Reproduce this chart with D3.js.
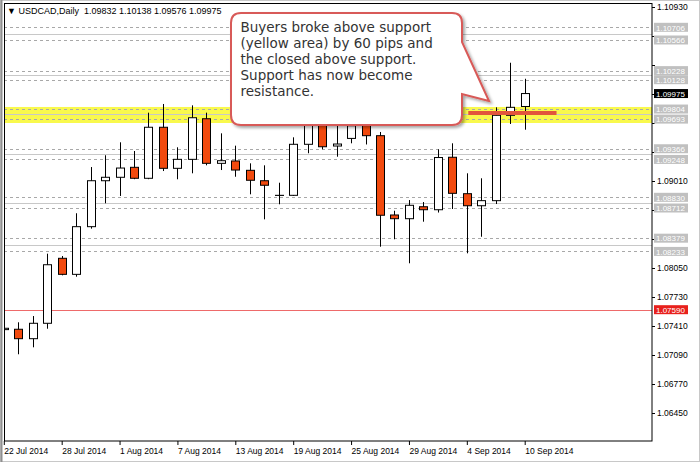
<!DOCTYPE html>
<html><head><meta charset="utf-8">
<script src="https://cdn.jsdelivr.net/npm/d3@7"></script>
<style>body{margin:0;background:#fff}svg{display:block}</style>
</head><body>
<script>
// ---------- data ----------
const title = "USDCAD,Daily  1.09832 1.10138 1.09576 1.09975";
const opens  = [1.07370,1.07374,1.07270,1.07440,1.08157,1.07980,1.08506,1.09013,1.09051,1.09161,1.09040,1.09603,1.09150,1.09249,1.09697,1.09205,1.09231,1.09128,1.09013,1.08852,1.08852,1.09415,1.09700,1.09396,1.09480,1.09640,1.09510,1.08635,1.08594,1.08726,1.08693,1.09272,1.08870,1.08737,1.08793,1.09735,1.09832];
const highs  = [1.07399,1.07451,1.07520,1.08208,1.08182,1.08654,1.09164,1.09294,1.09437,1.09341,1.09764,1.09860,1.09382,1.09845,1.09764,1.09536,1.09400,1.09205,1.09183,1.08991,1.09492,1.09790,1.09800,1.09620,1.09700,1.09700,1.09551,1.08682,1.08800,1.08778,1.09360,1.09426,1.09095,1.09040,1.09823,1.10315,1.10138];
const lows   = [1.07355,1.07098,1.07175,1.07380,1.07969,1.07954,1.08484,1.08764,1.08845,1.09030,1.09030,1.09120,1.09029,1.09095,1.09183,1.09131,1.09057,1.08863,1.08587,1.08753,1.08845,1.09316,1.09360,1.09278,1.09426,1.09413,1.08285,1.08367,1.08102,1.08561,1.08662,1.08701,1.08212,1.08395,1.08756,1.09639,1.09576];
const closes = [1.07385,1.07270,1.07440,1.08086,1.07980,1.08506,1.09013,1.09051,1.09153,1.09040,1.09603,1.09150,1.09249,1.09708,1.09205,1.09234,1.09131,1.09018,1.08963,1.08852,1.09415,1.09700,1.09388,1.09418,1.09620,1.09510,1.08632,1.08594,1.08742,1.08693,1.09269,1.08874,1.08737,1.08793,1.09735,1.09823,1.09975];
const xTickIndex  = [0,4,8,12,16,20,24,28,32,36];
const xTickLabels = ["22 Jul 2014","28 Jul 2014","1 Aug 2014","7 Aug 2014","13 Aug 2014","19 Aug 2014","25 Aug 2014","29 Aug 2014","4 Sep 2014","10 Sep 2014"];
const yTicks = [1.10930,1.10610,1.10290,1.09970,1.09650,1.09330,1.09010,1.08690,1.08370,1.08050,1.07730,1.07410,1.07090,1.06770,1.06450];
const levelPairs = [[1.10706,1.10566],[1.10228,1.10128],[1.09804,1.09693],[1.09366,1.09248],[1.08830,1.08712],[1.08379,1.08233]];
const supportZone = [1.09827,1.09650];
const redLevel = 1.07590;
const currentPrice = 1.09975;
const markFrom = 32.1, markTo = 38.2, markPrice = 1.09760;
const calloutLines = ["Buyers broke above support","(yellow area) by 60 pips and","the closed above support.","Support has now become","resistance."];

// ---------- layout ----------
const W=700,H=462,L=4,T=4,R=652,B=441;
const svg=d3.select("body").append("svg").attr("width",W).attr("height",H);
const x=d3.scaleLinear().domain([0,36]).range([3.8,524.7]);
const y=d3.scaleLinear().domain([1.06450,1.10930]).range([413,7]);
const bull="#ffffff", bear="#f24a0e";

const defs=svg.append("defs");
defs.append("clipPath").attr("id","plot").append("rect").attr("x",L).attr("y",T).attr("width",R-L).attr("height",B-T);
const f=defs.append("filter").attr("id","sh").attr("x","-10%").attr("y","-10%").attr("width","130%").attr("height","130%");
f.append("feDropShadow").attr("dx",2).attr("dy",2).attr("stdDeviation",1.5).attr("flood-color","#000").attr("flood-opacity",0.35);

svg.append("rect").attr("x",0.5).attr("y",0.5).attr("width",W-1).attr("height",H-1).attr("fill","#fff").attr("stroke","#c8c8c8");
svg.append("line").attr("x1",1.5).attr("x2",1.5).attr("y1",0).attr("y2",H).attr("stroke","#909090").attr("stroke-width",2);

const plot=svg.append("g").attr("clip-path","url(#plot)");

// yellow support zone
plot.append("rect").attr("x",0).attr("width",R)
  .attr("y",y(supportZone[0])).attr("height",y(supportZone[1])-y(supportZone[0]))
  .attr("fill","#f8f83a").attr("opacity",0.9);

// level lines
levelPairs.forEach(p=>{
  p.forEach(v=>{
    plot.append("line").attr("x1",L).attr("x2",R).attr("y1",Math.round(y(v))+0.5).attr("y2",Math.round(y(v))+0.5)
      .attr("stroke","#a8a8a8").attr("stroke-dasharray","3,3");
  });
  const m=(p[0]+p[1])/2;
  plot.append("line").attr("x1",L).attr("x2",R).attr("y1",Math.round(y(m))+0.5).attr("y2",Math.round(y(m))+0.5)
    .attr("stroke","#c8c8c8");
});
// red level
plot.append("line").attr("x1",L).attr("x2",R).attr("y1",Math.round(y(redLevel))+0.5).attr("y2",Math.round(y(redLevel))+0.5)
  .attr("stroke","#ee6a6a").attr("stroke-width",1.2);

// candles
const idx=d3.range(opens.length);
const cg=plot.append("g");
cg.selectAll("line.w").data(idx).join("line")
  .attr("x1",i=>Math.round(x(i))+0.5).attr("x2",i=>Math.round(x(i))+0.5)
  .attr("y1",i=>y(highs[i])).attr("y2",i=>y(lows[i]))
  .attr("stroke","#000").attr("stroke-width",1);
cg.selectAll("rect.b").data(idx).join("rect")
  .attr("x",i=>Math.round(x(i))-4+0.5).attr("width",8)
  .attr("y",i=>y(Math.max(opens[i],closes[i])))
  .attr("height",i=>Math.max(0.1,Math.abs(y(opens[i])-y(closes[i]))))
  .attr("fill",i=>closes[i]>=opens[i]?bull:bear)
  .attr("stroke","#000").attr("stroke-width",1);

// annotation segment
plot.append("line").attr("x1",x(markFrom)).attr("x2",x(markTo)).attr("y1",y(markPrice)).attr("y2",y(markPrice))
  .attr("stroke","#e2553c").attr("stroke-width",4);

// frame
svg.append("rect").attr("x",L+0.5).attr("y",T-0.5).attr("width",R-L-0.5).attr("height",B-T+0.5)
  .attr("fill","none").attr("stroke","#000");

// x axis
const xa=svg.append("g").attr("transform",`translate(0,${B})`)
  .call(d3.axisBottom(x).tickValues(xTickIndex).tickFormat((d,i)=>xTickLabels[i]).tickSize(4).tickSizeOuter(0));
xa.select(".domain").remove();
xa.selectAll("line").attr("stroke","#000");
xa.selectAll("text").attr("text-anchor","start").attr("x",0).attr("y",7)
  .style("font-family","'Liberation Sans',Arial,sans-serif").style("font-size","8.5px").attr("fill","#000");

// y axis: tick labels hidden behind price labels are left blank, as in the reference
const labelled=levelPairs.flat().concat([currentPrice,redLevel]);
const covered=v=>labelled.some(l=>Math.abs(y(l)-y(v))<6);
const ya=svg.append("g").attr("transform",`translate(${R},0)`)
  .call(d3.axisRight(y).tickValues(yTicks).tickFormat(v=>covered(v)?"":d3.format(".5f")(v)).tickSize(3).tickSizeOuter(0));
ya.select(".domain").remove();
ya.selectAll("line").attr("stroke","#000");
ya.selectAll("text").attr("x",5)
  .style("font-family","'Liberation Sans',Arial,sans-serif").style("font-size","8.5px").attr("fill","#000");

// price labels
function priceLabel(v,bg){
  const g=svg.append("g");
  g.append("rect").attr("x",R+2).attr("y",y(v)-4.5).attr("width",34).attr("height",9).attr("fill",bg);
  g.append("text").attr("x",R+4).attr("y",y(v)+3.2).text(d3.format(".5f")(v))
    .style("font-family","'Liberation Sans',Arial,sans-serif").style("font-size","8px").attr("fill","#fff");
}
levelPairs.flat().forEach(v=>priceLabel(v,"#c0c0c0"));
priceLabel(currentPrice,"#000");
priceLabel(redLevel,"#e8201c");

// title
svg.append("text").attr("x",7).attr("y",14).text("\u25BC "+title).attr("xml:space","preserve")
  .style("white-space","pre")
  .style("font-family","'Liberation Sans',Arial,sans-serif").style("font-size","9px").attr("fill","#000");

// callout
const cx0=231,cy0=13,cx1=462,cy1=125,r=10;
const path=`M${cx0+r},${cy0} H${cx1-r} Q${cx1},${cy0} ${cx1},${cy0+r} V42 L489,101 L${cx1},94 V${cy1-r} Q${cx1},${cy1} ${cx1-r},${cy1} H${cx0+r} Q${cx0},${cy1} ${cx0},${cy1-r} V${cy0+r} Q${cx0},${cy0} ${cx0+r},${cy0} Z`;
svg.append("path").attr("d",path).attr("fill","#fff").attr("stroke","#d85a58").attr("stroke-width",2).attr("filter","url(#sh)");
const ct=svg.append("text").style("font-family","'DejaVu Sans',Verdana,sans-serif").style("font-size","13.5px").attr("fill","#333");
calloutLines.forEach((s,i)=>ct.append("tspan").attr("x",240.5).attr("y",32.3+i*15.85).text(s));
</script>
</body></html>
